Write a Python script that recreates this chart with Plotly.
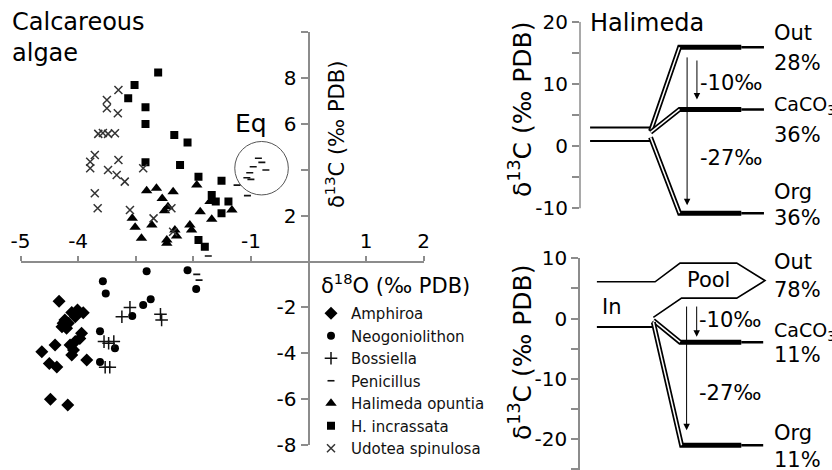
import plotly.graph_objects as go

FONT = "DejaVu Sans, sans-serif"

# ---------------- main scatter data (d18O, d13C) ----------------
amphiroa_x = [-4.33, -4.11, -4.01, -3.91, -4.05, -4.26, -4.20, -4.28, -4.17, -3.94, -3.97,
              -4.05, -4.08, -4.11, -4.40, -4.63, -4.50, -4.37, -3.85, -4.48, -4.18, -4.04,
              -4.23, -4.14]
amphiroa_y = [-1.73, -2.22, -2.11, -2.23, -2.41, -2.69, -2.91, -2.84, -2.69, -3.13, -3.35,
              -3.49, -3.86, -4.07, -3.64, -3.93, -4.44, -4.60, -4.29, -6.00, -6.25, -2.29,
              -2.55, -3.64]
neogon_x = [-2.81, -2.10, -1.95, -3.57, -3.52, -2.74, -2.87, -3.06, -3.62, -3.36, -3.62]
neogon_y = [-0.43, -0.38, -1.20, -0.86, -1.39, -1.64, -1.90, -2.37, -3.04, -3.78, -4.38]
bossiella_x = [-3.24, -3.10, -2.57, -2.55, -3.55, -3.47, -3.38, -3.53, -3.45]
bossiella_y = [-2.41, -2.00, -2.30, -2.55, -3.49, -3.56, -3.49, -4.61, -4.61]
penicillus_x = [-0.87, -0.81, -0.74, -0.96, -1.02, -1.07, -1.00, -1.24, -1.06, -1.74, -1.94, -1.90]
penicillus_y = [4.50, 4.32, 3.99, 4.13, 3.87, 3.65, 3.58, 3.33, 2.87, 0.24, -0.56, -0.81]
hal_opuntia_x = [-2.81, -2.64, -2.35, -2.54, -2.44, -2.50, -3.06, -3.01, -2.72, -2.90, -2.46,
                 -2.32, -2.29, -2.06, -2.03, -1.88, -1.94, -1.71, -1.33, -1.68, -2.46]
hal_opuntia_y = [3.08, 3.19, 3.04, 2.75, 2.39, 2.21, 1.88, 1.49, 1.59, 1.01, 0.94,
                 1.37, 1.11, 1.59, 1.37, 2.17, 3.33, 2.61, 2.24, 1.84, 0.79]
incrassata_x = [-2.61, -3.02, -3.13, -2.83, -2.83, -2.33, -2.10, -2.83, -2.23, -1.91, -1.51,
                -1.68, -1.61, -1.39, -1.51, -1.91, -1.80]
incrassata_y = [8.24, 7.69, 7.11, 6.72, 5.99, 5.51, 5.19, 4.32, 4.20, 3.69, 3.52,
                2.90, 2.61, 2.61, 2.10, 0.94, 0.64]
udotea_x = [-3.30, -3.50, -3.50, -3.31, -3.65, -3.48, -3.36, -3.57, -3.71, -3.79, -3.79,
            -3.30, -3.48, -3.33, -3.19, -3.71, -3.66, -3.10, -2.69, -2.38, -2.35, -2.87]
udotea_y = [7.47, 7.04, 6.68, 6.46, 5.56, 5.56, 5.59, 5.60, 4.64, 4.35, 4.06,
            4.42, 3.99, 3.77, 3.48, 2.97, 2.32, 2.24, 1.88, 2.32, 1.30, 4.06]

x_tick_vals = [-5, -4, -3, -2, -1, 1, 2]
x_tick_text = ["-5", "-4", "", "", "-1", "1", "2"]
y_tick_vals = [-8, -6, -4, -2, 2, 4, 6, 8, 10]
y_tick_text = ["-8", "-6", "-4", "-2", "2", "", "6", "8", ""]

# ---------------- Halimeda schematic (panel x units, d13C) ----------------
hal_in_upper_x, hal_in_upper_y = [0.4, 2.8], [3.0, 3.0]
hal_in_lower_x, hal_in_lower_y = [0.4, 2.8], [0.8, 0.8]
hal_out_x, hal_out_y = [2.8, 3.95, 6.4, 7.3], [2.4, 15.9, 15.9, 15.9]
hal_caco3_x, hal_caco3_y = [2.8, 3.95, 6.4, 7.3], [2.2, 5.9, 5.9, 5.9]
hal_org_x, hal_org_y = [2.8, 3.95, 6.4, 7.3], [1.4, -10.8, -10.8, -10.8]

# ---------------- Amphiroa schematic ----------------
amp_pool_x = [0.67, 2.98, 3.97, 6.22, 7.34, 6.22, 4.03, 2.91]
amp_pool_y = [6.1, 6.1, 9.2, 9.2, 6.3, 3.4, 3.4, 0.2]
amp_in_x, amp_in_y = [0.67, 2.98], [-1.4, -1.4]
amp_caco3_x, amp_caco3_y = [2.91, 3.97, 6.4, 7.27], [-0.3, -3.9, -3.9, -3.9]
amp_org_x, amp_org_y = [2.91, 4.03, 6.4, 7.27], [-0.6, -21.0, -21.0, -21.0]

fig = go.Figure()

def add_species(name, xs, ys, symbol, size, lw=0, color="black"):
    marker = dict(symbol=symbol, size=size, color=color)
    if lw:
        marker["line"] = dict(width=lw, color=color)
    fig.add_trace(go.Scatter(x=xs, y=ys, mode="markers", name=name, marker=marker,
                             xaxis="x", yaxis="y"))

add_species("Amphiroa", amphiroa_x, amphiroa_y, "diamond", 10)
add_species("Neogoniolithon", neogon_x, neogon_y, "circle", 8)
add_species("Bossiella", bossiella_x, bossiella_y, "cross-thin-open", 9, 1.5, "#111")
add_species("Penicillus", penicillus_x, penicillus_y, "line-ew-open", 5, 1.6, "#111")
add_species("Halimeda opuntia", hal_opuntia_x, hal_opuntia_y, "triangle-up", 10)
add_species("H. incrassata", incrassata_x, incrassata_y, "square", 8)
add_species("Udotea spinulosa", udotea_x, udotea_y, "x-thin-open", 8, 1.5, "#333")


def add_path(xs, ys, ax, ay, width, color="black"):
    fig.add_trace(go.Scatter(x=xs, y=ys, mode="lines", showlegend=False, hoverinfo="skip",
                             line=dict(color=color, width=width), xaxis=ax, yaxis=ay))


def add_bundle(xs, ys, ax, ay):
    add_path(xs[:3], ys[:3], ax, ay, 5)
    add_path(xs[2:], ys[2:], ax, ay, 2.5)
    add_path(xs[:2], ys[:2], ax, ay, 1.5, "white")


# Halimeda
add_path(hal_in_upper_x, hal_in_upper_y, "x2", "y2", 2)
add_path(hal_in_lower_x, hal_in_lower_y, "x2", "y2", 2)
for bx, by in [(hal_out_x, hal_out_y), (hal_caco3_x, hal_caco3_y), (hal_org_x, hal_org_y)]:
    add_bundle(bx, by, "x2", "y2")

# Amphiroa
add_path(amp_pool_x, amp_pool_y, "x3", "y3", 1.6)
add_path(amp_in_x, amp_in_y, "x3", "y3", 2)
for bx, by in [(amp_caco3_x, amp_caco3_y), (amp_org_x, amp_org_y)]:
    add_bundle(bx, by, "x3", "y3")

axis_gray = "#8c8c8c"
tickfont = dict(family=FONT, size=20, color="black")
rtickfont = dict(family=FONT, size=20, color="black")

annotations = []

def txt(x, y, text, size, xref="paper", yref="paper", xanchor="center", yanchor="middle",
        angle=0, align="center"):
    annotations.append(dict(x=x, y=y, text=text, xref=xref, yref=yref, showarrow=False,
                            xanchor=xanchor, yanchor=yanchor, textangle=angle, align=align,
                            font=dict(family=FONT, size=size, color="black")))

def arrow(x, y0, y1, xref, yref):
    annotations.append(dict(x=x, y=y1, ax=x, ay=y0, xref=xref, yref=yref, axref=xref,
                            ayref=yref, text="", showarrow=True, arrowhead=2, arrowsize=1.3,
                            arrowwidth=1, arrowcolor="black"))

# main panel texts
txt(10 / 832, 1 - 6 / 470, "Calcareous<br>algae", 24, xanchor="left", yanchor="top", align="left")
txt(-1.0, 6.03, "Eq", 25, xref="x", yref="y")
txt(319 / 832, 1 - 284 / 470, "δ<sup>18</sup>O (‰ PDB)", 21, xanchor="left")
txt(335 / 832, 1 - 135 / 470, "δ<sup>13</sup>C (‰ PDB)", 21, angle=-90)

# Halimeda texts
txt(0.3, 19.8, "Halimeda", 24, "x2", "y2", xanchor="left")
txt(520 / 832, 1 - 110 / 470, "δ<sup>13</sup>C (‰ PDB)", 25, angle=-90)
arrow(4.64, 14.0, 7.5, "x2", "y2")
arrow(4.25, 14.5, -9.5, "x2", "y2")
txt(4.7, 10.1, "-10‰", 21, "x2", "y2", xanchor="left")
txt(4.7, -1.9, "-27‰", 21, "x2", "y2", xanchor="left")
for label, yv, fs in [("Out", 18.2, 21), ("28%", 13.4, 21), ("CaCO<sub>3</sub>", 6.6, 19),
                      ("36%", 1.8, 21), ("Org", -7.4, 21), ("36%", -11.6, 21)]:
    txt(7.62, yv, label, fs, "x2", "y2", xanchor="left")

# Amphiroa texts
txt(0.3, 12.2, "Amphiroa", 24, "x3", "y3", xanchor="left")
txt(520 / 832, 1 - 353 / 470, "δ<sup>13</sup>C (‰ PDB)", 25, angle=-90)
txt(5.08, 6.4, "Pool", 21, "x3", "y3")
txt(1.27, 2.0, "In", 21, "x3", "y3")
arrow(4.63, 2.25, -3.0, "x3", "y3")
arrow(4.23, 2.25, -18.5, "x3", "y3")
txt(4.66, -0.2, "-10‰", 21, "x3", "y3", xanchor="left")
txt(4.66, -12.4, "-27‰", 21, "x3", "y3", xanchor="left")
for label, yv, fs in [("Out", 9.4, 21), ("78%", 4.7, 21), ("CaCO<sub>3</sub>", -2.2, 19),
                      ("11%", -6.0, 21), ("Org", -19.0, 21), ("11%", -23.4, 21)]:
    txt(7.62, yv, label, fs, "x3", "y3", xanchor="left")

shapes = [
    dict(type="circle", xref="x", yref="y", x0=-1.28, x1=-0.35, y0=2.90, y1=5.23,
         line=dict(color="#555", width=1)),
    dict(type="line", xref="x2 domain", yref="y2", x0=0, x1=0, y0=-10, y1=20,
         line=dict(color=axis_gray, width=1.5)),
]

fig.update_layout(
    width=832, height=470, margin=dict(l=0, r=0, t=0, b=0, pad=0, autoexpand=False),
    paper_bgcolor="white", plot_bgcolor="rgba(0,0,0,0)",
    font=dict(family=FONT, color="black"),
    showlegend=True,
    legend=dict(x=311 / 832, y=1 - 297 / 470, xanchor="left", yanchor="top",
                font=dict(family=FONT, size=15, color="#111"), bgcolor="rgba(0,0,0,0)",
                tracegroupgap=0, itemwidth=30),
    xaxis=dict(domain=[20.5 / 832, 423.7 / 832], range=[-5, 2], anchor="free",
               position=1 - 262 / 470, side="top", showgrid=False, zeroline=False,
               showline=True, linecolor=axis_gray, linewidth=2, ticks="outside", ticklen=5,
               tickcolor=axis_gray, tickwidth=1.5, tickvals=x_tick_vals, ticktext=x_tick_text,
               tickfont=tickfont, automargin=False),
    yaxis=dict(domain=[1 - 445.1 / 470, 1 - 32 / 470], range=[-8, 10], anchor="free",
               position=308.5 / 832, side="left", showgrid=False, zeroline=False,
               showline=True, linecolor=axis_gray, linewidth=2, ticks="outside", ticklen=7,
               tickcolor=axis_gray, tickwidth=1.5, tickvals=y_tick_vals, ticktext=y_tick_text,
               tickfont=tickfont, automargin=False),
    xaxis2=dict(domain=[580 / 832, 1.0], range=[0, 10], visible=False, anchor="y2"),
    yaxis2=dict(domain=[1 - 220.7 / 470, 1 - 21.7 / 470], range=[-12, 20], anchor="x2",
                showgrid=False, zeroline=False, showline=False, ticks="outside", ticklen=7,
                tickcolor=axis_gray, tickwidth=1.5, automargin=False,
                tickvals=[-10, -5, 0, 5, 10, 15, 20], ticktext=["-10", "", "0", "", "10", "", "20"],
                tickfont=rtickfont),
    xaxis3=dict(domain=[580 / 832, 1.0], range=[0, 10], visible=False, anchor="y3"),
    yaxis3=dict(domain=[0, 1 - 258.3 / 470], range=[-25.1, 10], anchor="x3",
                showgrid=False, zeroline=False, showline=True, linecolor=axis_gray,
                linewidth=1.5, ticks="outside", ticklen=7, tickcolor=axis_gray, tickwidth=1.5,
                tickvals=[-25, -20, -15, -10, -5, 0, 5, 10], automargin=False,
                ticktext=["", "-20", "", "-10", "", "0", "", "10"], tickfont=rtickfont),
    annotations=annotations,
    shapes=shapes,
)

fig.write_html("out.html", config={"displayModeBar": False},
               post_script="document.body.style.margin='0px';")
